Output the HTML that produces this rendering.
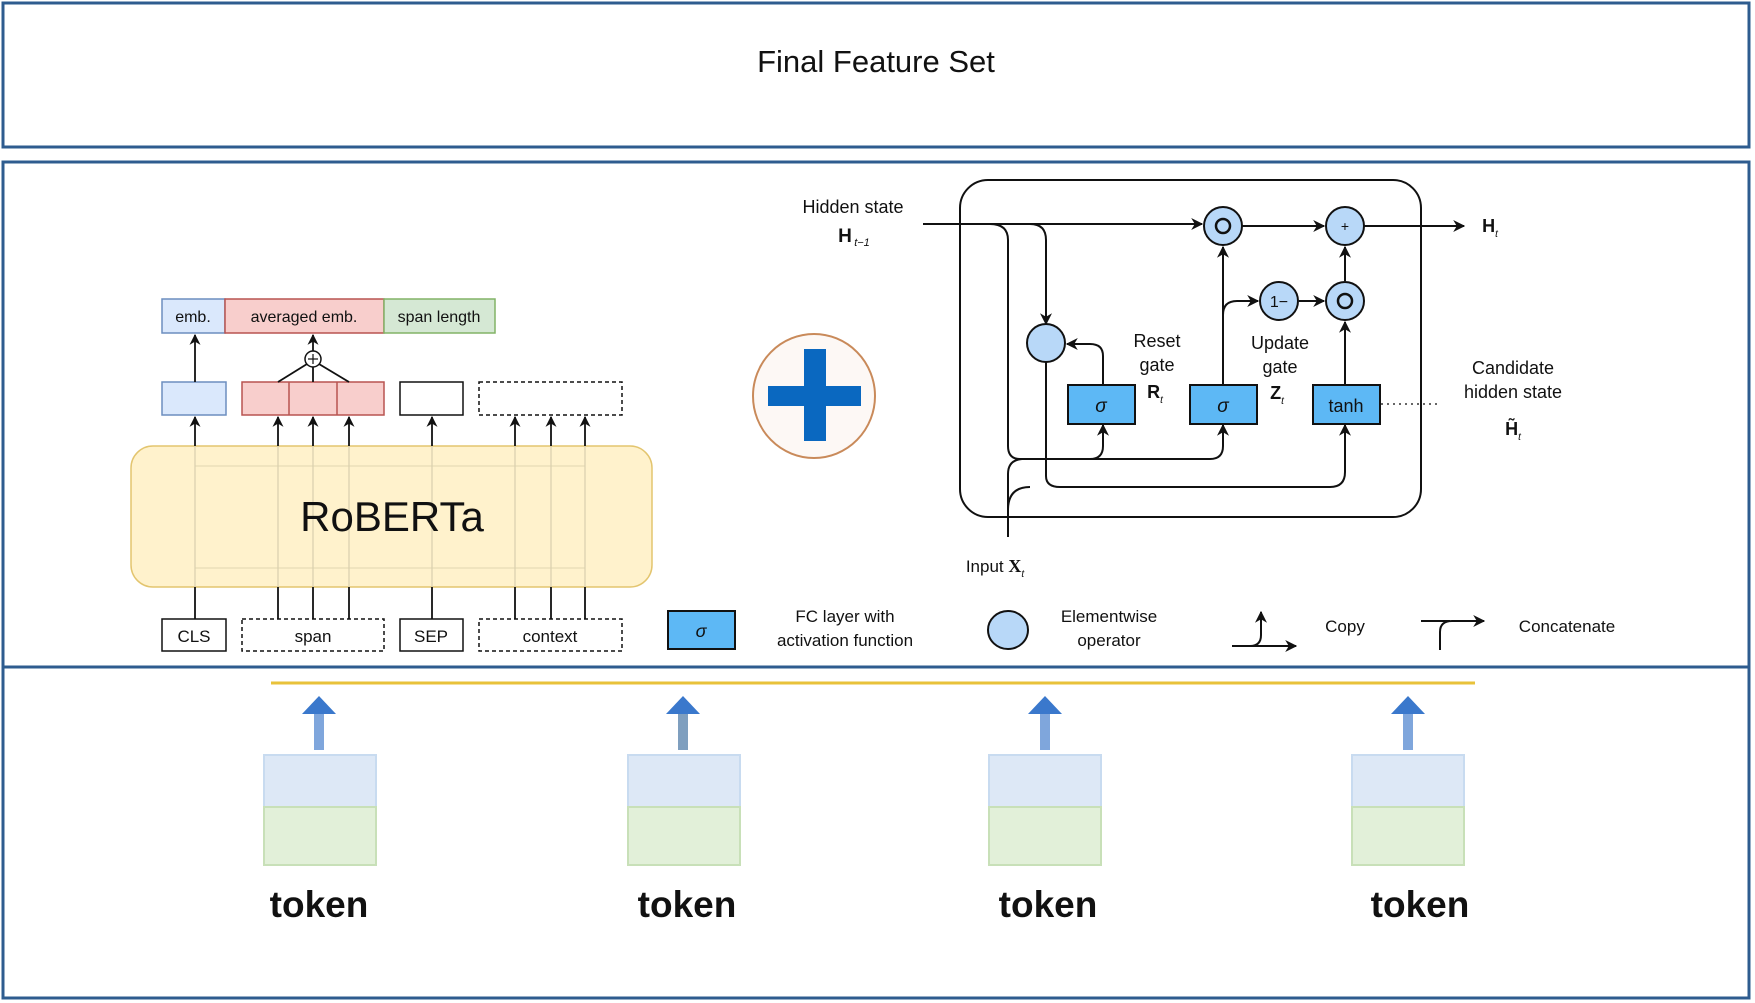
<!DOCTYPE html>
<html><head><meta charset="utf-8"><style>
html,body{margin:0;padding:0;background:#fff;}
svg{display:block;}
text{font-family:"Liberation Sans",Arial,sans-serif;fill:#111;}
</style></head><body>
<svg width="1755" height="1003" viewBox="0 0 1755 1003" xmlns="http://www.w3.org/2000/svg">
<defs>
<marker id="ah" viewBox="0 0 10 10" refX="9" refY="5" markerWidth="11" markerHeight="11" orient="auto-start-reverse" markerUnits="userSpaceOnUse"><path d="M0,0 L10,5 L0,10 L3,5 z" fill="#111"/></marker>
<marker id="ah2" viewBox="0 0 10 10" refX="9" refY="5" markerWidth="12" markerHeight="12" orient="auto" markerUnits="userSpaceOnUse"><path d="M0,0 L10,5 L0,10 L3,5 z" fill="#111"/></marker>
</defs>
<rect x="3" y="3" width="1746" height="144" fill="none" stroke="#2e5c8f" stroke-width="3"/>
<text x="876" y="72" font-size="31" text-anchor="middle" fill="#000">Final Feature Set</text>
<rect x="3" y="162" width="1746" height="505" fill="none" stroke="#2e5c8f" stroke-width="3"/>
<rect x="3" y="667" width="1746" height="331" fill="none" stroke="#2e5c8f" stroke-width="3"/>

<rect x="162" y="299" width="63" height="34" fill="#dae8fc" stroke="#6c8ebf" stroke-width="1.5"/>
<rect x="225" y="299" width="159" height="34" fill="#f8cecc" stroke="#b85450" stroke-width="1.5"/>
<rect x="384" y="299" width="111" height="34" fill="#d5e8d4" stroke="#82b366" stroke-width="1.5"/>
<text x="193" y="322" font-size="16" text-anchor="middle">emb.</text>
<text x="304" y="322" font-size="16" text-anchor="middle">averaged emb.</text>
<text x="439" y="322" font-size="16" text-anchor="middle">span length</text>

<rect x="162" y="382" width="64" height="33" fill="#dae8fc" stroke="#6c8ebf" stroke-width="1.5"/>
<rect x="242" y="382" width="142" height="33" fill="#f8cecc" stroke="#b85450" stroke-width="1.5"/>
<line x1="289" y1="382" x2="289" y2="415" stroke="#b85450" stroke-width="1.5"/>
<line x1="337" y1="382" x2="337" y2="415" stroke="#b85450" stroke-width="1.5"/>
<rect x="400" y="382" width="63" height="33" fill="#fff" stroke="#111" stroke-width="1.5"/>
<rect x="479" y="382" width="143" height="33" fill="#fff" stroke="#111" stroke-width="1.5" stroke-dasharray="4,3"/>

<line x1="195" y1="382" x2="195" y2="335" stroke="#111" stroke-width="1.8" marker-end="url(#ah)"/>
<circle cx="313" cy="359" r="8" fill="#fff" stroke="#111" stroke-width="1.5"/>
<line x1="308" y1="359" x2="318" y2="359" stroke="#111" stroke-width="1.2"/>
<line x1="313" y1="354" x2="313" y2="364" stroke="#111" stroke-width="1.2"/>
<line x1="313" y1="351" x2="313" y2="335" stroke="#111" stroke-width="1.8" marker-end="url(#ah)"/>
<path d="M278,382 L307,364 M313,382 L313,367 M349,382 L319,364" stroke="#111" stroke-width="1.8" fill="none"/>

<rect x="131" y="446" width="521" height="141" rx="22" fill="#fff2cc" stroke="#e3c56f" stroke-width="1.5"/>
<g stroke="#e8dcb5" stroke-width="1.2">
<line x1="195" y1="466" x2="585" y2="466"/><line x1="195" y1="568" x2="585" y2="568"/>
</g>
<g stroke="#111" stroke-width="1.8">
<line x1="195" y1="619" x2="195" y2="587"/><line x1="278" y1="619" x2="278" y2="587"/><line x1="313" y1="619" x2="313" y2="587"/><line x1="349" y1="619" x2="349" y2="587"/><line x1="432" y1="619" x2="432" y2="587"/><line x1="515" y1="619" x2="515" y2="587"/><line x1="551" y1="619" x2="551" y2="587"/><line x1="585" y1="619" x2="585" y2="587"/>
</g>
<g stroke="#d9cfae" stroke-width="1.2">
<line x1="195" y1="446" x2="195" y2="587"/><line x1="278" y1="446" x2="278" y2="587"/><line x1="313" y1="446" x2="313" y2="587"/><line x1="349" y1="446" x2="349" y2="587"/><line x1="432" y1="446" x2="432" y2="587"/><line x1="515" y1="446" x2="515" y2="587"/><line x1="551" y1="446" x2="551" y2="587"/><line x1="585" y1="446" x2="585" y2="587"/>
</g>
<g stroke="#111" stroke-width="1.8" marker-end="url(#ah)">
<line x1="195" y1="446" x2="195" y2="417"/><line x1="278" y1="446" x2="278" y2="417"/><line x1="313" y1="446" x2="313" y2="417"/><line x1="349" y1="446" x2="349" y2="417"/><line x1="432" y1="446" x2="432" y2="417"/><line x1="515" y1="446" x2="515" y2="417"/><line x1="551" y1="446" x2="551" y2="417"/><line x1="585" y1="446" x2="585" y2="417"/>
</g>
<text x="392" y="531" font-size="42" text-anchor="middle" fill="#000">RoBERTa</text>

<rect x="162" y="619" width="64" height="32" fill="#fff" stroke="#111" stroke-width="1.5"/>
<rect x="242" y="619" width="142" height="32" fill="#fff" stroke="#111" stroke-width="1.5" stroke-dasharray="4,3"/>
<rect x="400" y="619" width="63" height="32" fill="#fff" stroke="#111" stroke-width="1.5"/>
<rect x="479" y="619" width="143" height="32" fill="#fff" stroke="#111" stroke-width="1.5" stroke-dasharray="4,3"/>
<text x="194" y="642" font-size="17" text-anchor="middle">CLS</text>
<text x="313" y="642" font-size="17" text-anchor="middle">span</text>
<text x="431" y="642" font-size="17" text-anchor="middle">SEP</text>
<text x="550" y="642" font-size="17" text-anchor="middle">context</text>

<ellipse cx="814" cy="396" rx="61" ry="62" fill="#fdf8f5" stroke="#c98a5a" stroke-width="2"/>
<rect x="804" y="349" width="22" height="92" fill="#0a68c0"/>
<rect x="768" y="386" width="93" height="20" fill="#0a68c0"/>

<rect x="960" y="180" width="461" height="337" rx="28" fill="none" stroke="#111" stroke-width="2"/>
<text x="853" y="213" font-size="18" text-anchor="middle">Hidden state</text>
<text x="845" y="242" font-size="19" font-weight="bold" font-family="Liberation Serif" text-anchor="middle">H</text>
<text x="862" y="246" font-size="11" font-style="italic" font-family="Liberation Serif" text-anchor="middle">t−1</text>
<g stroke="#111" stroke-width="2" fill="none">
<line x1="923" y1="224" x2="1202" y2="224" marker-end="url(#ah2)"/>
<line x1="1242" y1="226" x2="1324" y2="226" marker-end="url(#ah2)"/>
<line x1="1364" y1="226" x2="1464" y2="226" marker-end="url(#ah2)"/>
<path d="M990,224 Q1008,224 1008,240 L1008,446 Q1008,459 1020,459 L1090,459 Q1103,459 1103,446 L1103,425" marker-end="url(#ah2)"/>
<path d="M1090,459 L1210,459 Q1223,459 1223,446 L1223,425" marker-end="url(#ah2)"/>
<path d="M1030,224 Q1046,224 1046,240 L1046,324" marker-end="url(#ah2)"/>
<path d="M1046,362 L1046,476 Q1046,487 1060,487 L1330,487 Q1345,487 1345,472 L1345,425" marker-end="url(#ah2)"/>
<path d="M1008,537 L1008,474 Q1008,460 1022,459"/>
<path d="M1008,510 Q1008,487 1030,487"/>
<path d="M1103,385 L1103,356 Q1103,344 1090,344 L1067,344" marker-end="url(#ah2)"/>
<line x1="1223" y1="385" x2="1223" y2="247" marker-end="url(#ah2)"/>
<path d="M1223,315 Q1223,301 1237,301 L1258,301" marker-end="url(#ah2)"/>
<line x1="1299" y1="301" x2="1324" y2="301" marker-end="url(#ah2)"/>
<line x1="1345" y1="385" x2="1345" y2="322" marker-end="url(#ah2)"/>
<line x1="1345" y1="281" x2="1345" y2="247" marker-end="url(#ah2)"/>
</g>
<line x1="1381" y1="404" x2="1438" y2="404" stroke="#333" stroke-width="1.5" stroke-dasharray="2,4"/>
<g stroke="#111" stroke-width="2" fill="#b8d8f8">
<circle cx="1223" cy="226" r="19"/><circle cx="1345" cy="226" r="19"/>
<circle cx="1279" cy="301" r="19"/><circle cx="1345" cy="301" r="19"/>
<circle cx="1046" cy="343" r="19"/>
</g>
<circle cx="1223" cy="226" r="7" fill="none" stroke="#111" stroke-width="2.5"/>
<circle cx="1345" cy="301" r="7" fill="none" stroke="#111" stroke-width="2.5"/>
<text x="1345" y="231" font-size="14" text-anchor="middle">+</text>
<text x="1279" y="307" font-size="16" font-family="Liberation Serif" text-anchor="middle">1−</text>
<g stroke="#111" stroke-width="2" fill="#5db8f5">
<rect x="1068" y="385" width="67" height="39"/><rect x="1190" y="385" width="67" height="39"/><rect x="1313" y="385" width="67" height="39"/>
</g>
<text x="1101" y="412" font-size="19" font-style="italic" text-anchor="middle">σ</text>
<text x="1223" y="412" font-size="19" font-style="italic" text-anchor="middle">σ</text>
<text x="1346" y="412" font-size="18" text-anchor="middle">tanh</text>
<text x="1157" y="347" font-size="18" text-anchor="middle">Reset</text>
<text x="1157" y="371" font-size="18" text-anchor="middle">gate</text>
<text x="1155" y="398" font-size="18" font-weight="bold" font-family="Liberation Serif" text-anchor="middle">R<tspan font-size="10" font-style="italic" font-weight="normal" dy="5">t</tspan></text>
<text x="1280" y="349" font-size="18" text-anchor="middle">Update</text>
<text x="1280" y="373" font-size="18" text-anchor="middle">gate</text>
<text x="1277" y="399" font-size="18" font-weight="bold" font-family="Liberation Serif" text-anchor="middle">Z<tspan font-size="10" font-style="italic" font-weight="normal" dy="5">t</tspan></text>
<text x="1513" y="374" font-size="18" text-anchor="middle">Candidate</text>
<text x="1513" y="398" font-size="18" text-anchor="middle">hidden state</text>
<text x="1513" y="435" font-size="18" font-weight="bold" font-family="Liberation Serif" text-anchor="middle">H̃<tspan font-size="10" font-style="italic" font-weight="normal" dy="5">t</tspan></text>
<text x="1490" y="232" font-size="18" font-weight="bold" font-family="Liberation Serif" text-anchor="middle">H<tspan font-size="10" font-style="italic" font-weight="normal" dy="5">t</tspan></text>
<text x="995" y="572" font-size="17" text-anchor="middle">Input <tspan font-weight="bold" font-family="Liberation Serif" font-size="18">X</tspan><tspan font-size="10" font-style="italic" dy="5">t</tspan></text>

<rect x="668" y="611" width="67" height="38" fill="#5db8f5" stroke="#111" stroke-width="2"/>
<text x="701" y="637" font-size="18" font-style="italic" text-anchor="middle">σ</text>
<text x="845" y="622" font-size="17" text-anchor="middle">FC layer with</text>
<text x="845" y="646" font-size="17" text-anchor="middle">activation function</text>
<ellipse cx="1008" cy="630" rx="20" ry="19" fill="#b8d8f8" stroke="#111" stroke-width="2"/>
<text x="1109" y="622" font-size="17" text-anchor="middle">Elementwise</text>
<text x="1109" y="646" font-size="17" text-anchor="middle">operator</text>
<path d="M1232,646 L1250,646 Q1261,646 1261,635 L1261,612" stroke="#111" stroke-width="2" fill="none" marker-end="url(#ah2)"/>
<line x1="1250" y1="646" x2="1296" y2="646" stroke="#111" stroke-width="2" marker-end="url(#ah2)"/>
<text x="1345" y="632" font-size="17" text-anchor="middle">Copy</text>
<path d="M1440,650 L1440,632 Q1440,621 1452,621 L1484,621" stroke="#111" stroke-width="2" fill="none" marker-end="url(#ah2)"/>
<line x1="1421" y1="621" x2="1450" y2="621" stroke="#111" stroke-width="2"/>
<text x="1567" y="632" font-size="17" text-anchor="middle">Concatenate</text>

<line x1="271" y1="683" x2="1475" y2="683" stroke="#e8c23a" stroke-width="3"/>
<g>
<rect x="314" y="712" width="10" height="38" fill="#7fa6dc"/><path d="M302,714 L319,696 L336,714 Z" fill="#3a78cc"/>
<rect x="264" y="755" width="112" height="52" fill="#dde8f6" stroke="#c8dbf0" stroke-width="2"/><rect x="264" y="807" width="112" height="58" fill="#e2f0d9" stroke="#c8e0b8" stroke-width="2"/>
<text x="319" y="917" font-size="37" font-weight="bold" font-family="DejaVu Sans" text-anchor="middle">token</text>
</g>
<g>
<rect x="678" y="712" width="10" height="38" fill="#7f9fbf"/><path d="M666,714 L683,696 L700,714 Z" fill="#3a78cc"/>
<rect x="628" y="755" width="112" height="52" fill="#dde8f6" stroke="#c8dbf0" stroke-width="2"/><rect x="628" y="807" width="112" height="58" fill="#e2f0d9" stroke="#c8e0b8" stroke-width="2"/>
<text x="687" y="917" font-size="37" font-weight="bold" font-family="DejaVu Sans" text-anchor="middle">token</text>
</g>
<g>
<rect x="1040" y="712" width="10" height="38" fill="#7fa6dc"/><path d="M1028,714 L1045,696 L1062,714 Z" fill="#3a78cc"/>
<rect x="989" y="755" width="112" height="52" fill="#dde8f6" stroke="#c8dbf0" stroke-width="2"/><rect x="989" y="807" width="112" height="58" fill="#e2f0d9" stroke="#c8e0b8" stroke-width="2"/>
<text x="1048" y="917" font-size="37" font-weight="bold" font-family="DejaVu Sans" text-anchor="middle">token</text>
</g>
<g>
<rect x="1403" y="712" width="10" height="38" fill="#7fa6dc"/><path d="M1391,714 L1408,696 L1425,714 Z" fill="#3a78cc"/>
<rect x="1352" y="755" width="112" height="52" fill="#dde8f6" stroke="#c8dbf0" stroke-width="2"/><rect x="1352" y="807" width="112" height="58" fill="#e2f0d9" stroke="#c8e0b8" stroke-width="2"/>
<text x="1420" y="917" font-size="37" font-weight="bold" font-family="DejaVu Sans" text-anchor="middle">token</text>
</g>
</svg>
</body></html>
